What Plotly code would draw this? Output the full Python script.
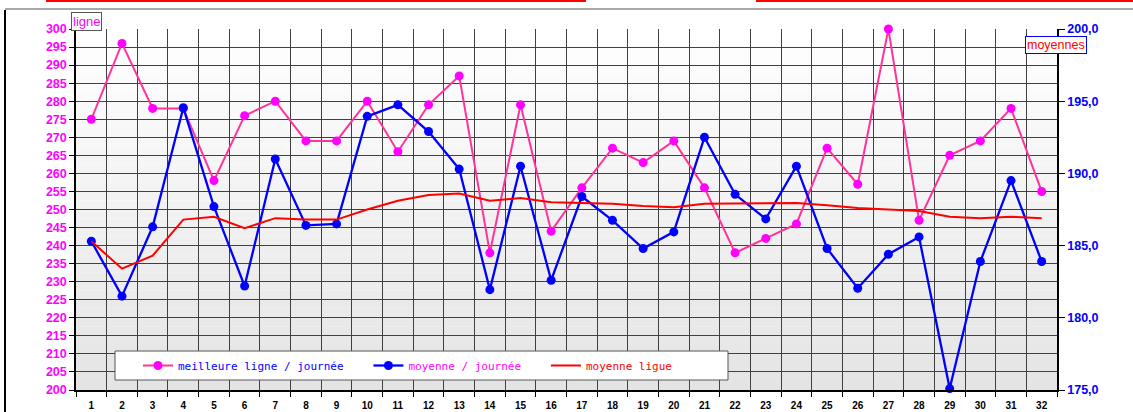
import plotly.graph_objects as go

# ---------------- data ----------------
journees = list(range(1, 33))
meilleure_ligne = [275, 296, 278, 278, 258, 276, 280, 269, 269, 280, 266, 279, 287, 238, 279, 244,
                   256, 267, 263, 269, 256, 238, 242, 246, 267, 257, 300, 247, 265, 269, 278, 255]
moyenne_journee = [185.3, 181.5, 186.3, 194.55, 187.7, 182.2, 191.0, 186.4, 186.5, 193.95, 194.75,
                   192.9, 190.3, 181.95, 190.5, 182.6, 188.4, 186.75, 184.8, 185.95, 192.5, 188.55,
                   186.85, 190.5, 184.8, 182.05, 184.4, 185.6, 175.1, 183.9, 189.5, 183.9]
moyenne_ligue = [185.3, 183.4, 184.3, 186.8, 187.0, 186.2, 186.9, 186.8, 186.8, 187.5, 188.1, 188.5,
                 188.6, 188.1, 188.3, 188.0, 187.95, 187.9, 187.75, 187.65, 187.9, 187.9, 187.9,
                 187.95, 187.8, 187.6, 187.5, 187.4, 187.0, 186.9, 187.0, 186.9]
left_range = [200, 300]
right_range = [175, 200]
names = ["meilleure ligne / journée", "moyenne / journée", "moyenne ligue"]

# ---------------- geometry helpers ----------------
W, H = 1133, 412
L, R, T, B = 76, 76, 29, 22
PW, PH = W - L - R, H - T - B


def px(x):
    return (x - L) / PW


def py(y):
    return (H - B - y) / PH


PAD = "\u00a0" * 3

fig = go.Figure()

fig.add_trace(go.Scatter(
    x=journees, y=meilleure_ligne, yaxis="y", mode="lines+markers",
    name="<span style='color:#0000ff'>" + names[0] + PAD + "</span>",
    line=dict(color="#ff3399", width=2),
    marker=dict(color="#ff00ff", size=9, symbol="circle"), cliponaxis=False))
fig.add_trace(go.Scatter(
    x=journees, y=moyenne_journee, yaxis="y2", mode="lines+markers",
    name="<span style='color:#ff00ff'>" + names[1] + PAD + "</span>",
    line=dict(color="#0000ff", width=2.3),
    marker=dict(color="#0000ff", size=9, symbol="circle"), cliponaxis=False))
fig.add_trace(go.Scatter(
    x=journees, y=moyenne_ligue, yaxis="y2", mode="lines",
    name="<span style='color:#ff0000'>" + names[2] + "</span>",
    line=dict(color="#ff0000", width=2)))

shapes = []
# gradient background of plot area
N = 40
for i in range(N):
    t = i / N
    c = int(round(255 - (255 - 228) * (1 - (i + 0.5) / N)))
    shapes.append(dict(type="rect", xref="paper", yref="paper", x0=0, x1=1, y0=t, y1=t + 1 / N,
                       fillcolor=f"rgb({c},{c},{c})", line=dict(width=0), layer="below"))
# legend box
shapes.append(dict(type="rect", xref="paper", yref="paper", x0=px(115), x1=px(728), y0=py(380), y1=py(351),
                   fillcolor="white", line=dict(color="#555555", width=1), layer="above"))
# outer frame decoration
shapes.append(dict(type="line", xref="paper", yref="paper", x0=px(5), x1=px(5), y0=py(10), y1=py(412),
                   line=dict(color="black", width=2)))
shapes.append(dict(type="line", xref="paper", yref="paper", x0=px(5), x1=px(1133), y0=py(9), y1=py(9),
                   line=dict(color="#555555", width=1)))
shapes.append(dict(type="rect", xref="paper", yref="paper", x0=px(46), x1=px(586), y0=py(2), y1=py(0),
                   fillcolor="#ff0000", line=dict(width=0)))
shapes.append(dict(type="rect", xref="paper", yref="paper", x0=px(756), x1=px(1133), y0=py(2), y1=py(0),
                   fillcolor="#ff0000", line=dict(width=0)))

annotations = [
    dict(text="ligne", xref="paper", yref="paper", x=px(86), y=py(22), xanchor="center", yanchor="middle",
         showarrow=False, font=dict(family="Liberation Sans", size=13, color="#ff00ff"),
         bgcolor="white", bordercolor="#555555", borderwidth=1, borderpad=1),
    dict(text="moyennes", xref="paper", yref="paper", x=px(1056), y=py(44.5), xanchor="center",
         yanchor="middle", showarrow=False,
         font=dict(family="Liberation Sans", size=12.5, color="#ff0000"),
         bgcolor="white", bordercolor="#0000ff", borderwidth=1, borderpad=1),
]

fig.update_layout(
    width=W, height=H,
    margin=dict(l=L, r=R, t=T, b=B, autoexpand=False),
    paper_bgcolor="white", plot_bgcolor="rgba(0,0,0,0)",
    separators=", ",
    showlegend=True,
    legend=dict(orientation="h", x=px(138), y=py(351), xanchor="left", yanchor="top",
                bgcolor="rgba(0,0,0,0)", borderwidth=0,
                font=dict(family="DejaVu Sans Mono", size=11),
                traceorder="normal"),
    shapes=shapes, annotations=annotations,
    xaxis=dict(range=[0.5, 32.5], tickmode="array", tickvals=journees, automargin=False,
               ticktext=[str(j) for j in journees], ticks="", showgrid=False, zeroline=False,
               showline=True, linecolor="black", linewidth=2,
               tickfont=dict(family="Liberation Sans", size=10, color="black", weight="bold"),
               ticklabelstandoff=5,
               minor=dict(tick0=0.5, dtick=1, showgrid=True, gridcolor="#404040", gridwidth=1,
                          ticks="outside", ticklen=5, tickcolor="black")),
    yaxis=dict(range=left_range, dtick=5, tick0=200, showgrid=True, gridcolor="#404040", gridwidth=1,
               zeroline=False, showline=True, linecolor="black", linewidth=1.5, automargin=False,
               ticks="outside", ticklen=5, tickcolor="black",
               tickfont=dict(family="Liberation Sans", size=12.5, color="#ff00ff", weight="bold")),
    yaxis2=dict(range=right_range, dtick=5, tick0=175, overlaying="y", side="right", automargin=False,
                showgrid=False, zeroline=False, showline=True, linecolor="black", linewidth=1.5,
                ticks="outside", ticklen=6, tickcolor="black", tickformat=".1f",
                tickfont=dict(family="Liberation Sans", size=12.5, color="#0000ff", weight="bold")),
)

fig.write_html("out.html", config={"displayModeBar": False},
               post_script="document.body.style.margin='0px';")
